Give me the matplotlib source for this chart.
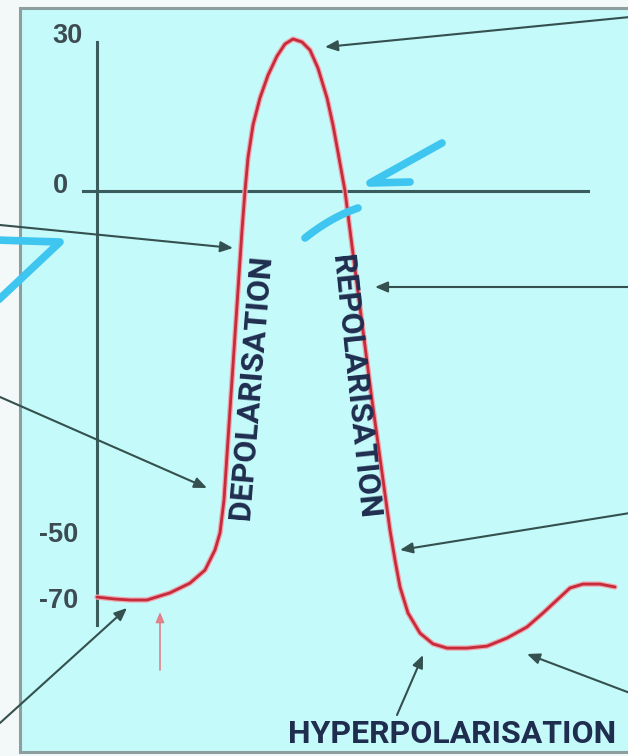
import numpy as np
import matplotlib
matplotlib.use("Agg")
import matplotlib.pyplot as plt
from matplotlib.patches import Rectangle

W, H = 628, 756

# membrane potential trace (time in arbitrary units, potential in mV)
t_au = [97, 115, 130, 147, 170, 190, 205, 215, 220, 224, 242, 245, 248,
        253, 260, 268, 277, 285, 293, 302, 310, 318, 327, 333, 338, 345,
        350, 372, 390, 395, 400, 408, 420, 433, 447, 467, 487, 507, 527,
        543, 557, 570, 583, 600, 615]
v_mv = [-69.1, -69.7, -70.0, -70.0, -67.8, -64.8, -60.8, -54.6, -49.7,
        -44.9, -5.7, 0.0, 6.6, 13.1, 18.5, 23.0, 26.8, 29.2, 30.2, 29.6,
        28.0, 24.4, 18.5, 13.1, 7.7, 0.0, -5.7, -30.4, -49.3, -57.7, -66.0,
        -74.0, -80.2, -83.5, -84.8, -84.8, -84.2, -81.7, -78.3, -74.0,
        -70.0, -66.3, -65.1, -65.1, -66.0]

tick_mv = [30, 0, -50, -70]
tick_txt = ["30", "0", "-50", "-70"]

phase_names = ["DEPOLARISATION", "REPOLARISATION", "HYPERPOLARISATION"]

# the sketch's voltage axis is drawn out of proportion: anchor heights (px from top)
anchor_mv = [-70, -50, 0, 30]
anchor_px = [600, 535, 191, 40]
lo_slope = (anchor_px[0] - anchor_px[1]) / (anchor_mv[1] - anchor_mv[0])
hi_slope = (anchor_px[-2] - anchor_px[-1]) / (anchor_mv[-1] - anchor_mv[-2])


def mv_to_h(v):
    v = np.asarray(v, dtype=float)
    p = np.interp(v, anchor_mv, anchor_px)
    p = np.where(v < anchor_mv[0], anchor_px[0] + (anchor_mv[0] - v) * lo_slope, p)
    p = np.where(v > anchor_mv[-1], anchor_px[-1] - (v - anchor_mv[-1]) * hi_slope, p)
    return H - p


def h_to_mv(h):
    p = H - np.asarray(h, dtype=float)
    v = np.interp(p, anchor_px[::-1], anchor_mv[::-1])
    v = np.where(p > anchor_px[0], anchor_mv[0] - (p - anchor_px[0]) / lo_slope, v)
    v = np.where(p < anchor_px[-1], anchor_mv[-1] + (anchor_px[-1] - p) / hi_slope, v)
    return v


BG = "#c4fafa"
AXIS_C = "#3b5c5d"
ARROW_C = "#34504f"
CURVE_C = "#c42b3b"
INK = "#3fc6f0"
TXT = "#1f2d4f"
PHASE_FONT = dict(family=["Noto Sans Condensed", "Roboto", "DejaVu Sans"],
                  stretch="condensed", fontweight="bold", fontsize=23, color=TXT)

fig = plt.figure(figsize=(W / 100, H / 100), dpi=100, facecolor="#f3f8f8")

# panel
bg = fig.add_axes([0, 0, 1, 1], zorder=0)
bg.set_xlim(0, W)
bg.set_ylim(H, 0)
bg.axis("off")
bg.add_patch(Rectangle((20, 8), W + 20, 744, facecolor=BG,
                       edgecolor="#8d9e9f", lw=2.2))

# data axes
ax = fig.add_axes([0, 0, 1, 1], zorder=1)
ax.patch.set_alpha(0)
ax.set_yscale("function", functions=(mv_to_h, h_to_mv))
ax.set_xlim(0, W)
ax.set_ylim(float(h_to_mv(0)), float(h_to_mv(H)))
for s in ["top", "right"]:
    ax.spines[s].set_visible(False)
ax.spines["left"].set_position(("data", 97))
ax.spines["left"].set_bounds(float(h_to_mv(H - 625)), float(h_to_mv(H - 42)))
ax.spines["bottom"].set_position(("data", 0))
ax.spines["bottom"].set_bounds(83, 588)
for s in ["left", "bottom"]:
    ax.spines[s].set_color(AXIS_C)
    ax.spines[s].set_linewidth(2.2)
ax.set_xticks([])
ax.set_yticks([])

ax.plot(t_au, v_mv, color="#f0a4ac", lw=3.8, solid_capstyle="round",
        solid_joinstyle="round", zorder=3)
ax.plot(t_au, v_mv, color=CURVE_C, lw=2.0, solid_capstyle="round",
        solid_joinstyle="round", zorder=4)

label_x = [67, 60, 59, 59]
label_dy = [-4, -5, 0, 1]
for x, v, s, dy in zip(label_x, tick_mv, tick_txt, label_dy):
    ax.annotate(s, (x, v), xytext=(0, -dy * 0.72), textcoords="offset points",
                ha="center", va="center", fontsize=19.5, fontweight="bold",
                color="#3c4c52", family=["Liberation Sans", "DejaVu Sans"])

# overlay: leader arrows, phase names and hand-drawn ink
ov = fig.add_axes([0, 0, 1, 1], zorder=2)
ov.patch.set_alpha(0)
ov.set_xlim(0, W)
ov.set_ylim(H, 0)
ov.axis("off")

leaders = [((630, 17), (325, 47)), ((0, 225), (233, 248)),
           ((630, 287), (375, 287)), ((0, 397), (207, 488)),
           ((0, 723), (127, 608)), ((630, 513), (400, 550)),
           ((397, 715), (423, 655)), ((630, 693), (527, 654))]
for start, tip in leaders:
    ov.annotate("", xy=tip, xytext=start, annotation_clip=False,
                arrowprops=dict(arrowstyle="-|>,head_length=0.75,head_width=0.32",
                                color=ARROW_C, lw=1.5, shrinkA=0, shrinkB=0))
ov.annotate("", xy=(160, 612), xytext=(160, 670),
            arrowprops=dict(arrowstyle="-|>,head_length=0.6,head_width=0.25",
                            color="#e0808a", lw=1.2, shrinkA=0, shrinkB=0))

ov.text(251, 387, phase_names[0], rotation=85.3, rotation_mode="anchor",
        ha="center", va="center", **PHASE_FONT)
ov.text(355, 387, phase_names[1], rotation=-84.0, rotation_mode="anchor",
        ha="center", va="center", **PHASE_FONT)
ov.text(452, 734, phase_names[2], ha="center", va="center", **PHASE_FONT)

ink = dict(color=INK, lw=5.5, solid_capstyle="round", solid_joinstyle="round",
           clip_on=False)
ov.plot([-5, 60, -8], [240, 242, 306], **ink)
ov.plot([442, 370, 410], [143, 183, 182], **ink)
arc = np.linspace(0, 1, 20)
ov.plot(305 + 53 * arc, 238 - 42 * arc + 12 * arc ** 2, **ink)

fig.savefig("out.png", dpi=100, facecolor=fig.get_facecolor())
